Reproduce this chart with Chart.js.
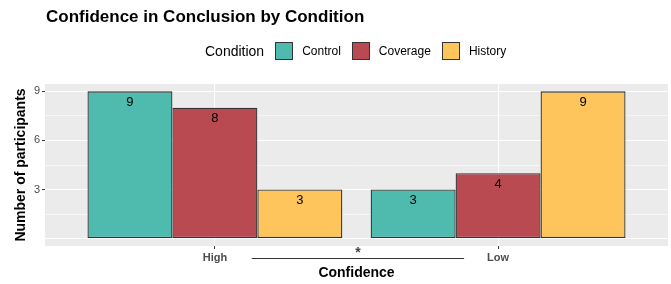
<!DOCTYPE html>
<html>
<head>
<meta charset="utf-8">
<script src="https://cdn.jsdelivr.net/npm/chart.js@4"></script>
<style>
  body { margin: 0; background: #fff; font-family: "Liberation Sans", Arial, sans-serif; }
  #wrap { position: relative; width: 671px; height: 284px; }
  #title { position: absolute; left: 46px; top: 8px; font-size: 17px; font-weight: bold; line-height: 17px; color: #000; }
  #legend { position: absolute; left: 205px; top: 42px; display: flex; align-items: center; height: 18px; }
  #legend .ttl { font-size: 14px; color: #000; margin-right: 11px; }
  #legend .box { width: 16px; height: 16px; border: 1px solid #333; }
  #legend .lab { font-size: 12px; color: #000; margin-left: 9px; margin-right: 11px; }
</style>
</head>
<body>
<div id="wrap">
  <canvas id="myChart" width="671" height="284"></canvas>
  <div id="title">Confidence in Conclusion by Condition</div>
  <div id="legend"></div>
</div>
<script>
// data
let categories = ["High", "Low"]
let control = [9, 3]
let coverage = [8, 4]
let history = [3, 9]
let seriesNames = ["Control", "Coverage", "History"]
let colors = ["#4fbbae", "#b94a52", "#fec55d"]
let yTicks = [0, 1.5, 3, 4.5, 6, 7.5, 9]
let yLabels = [3, 6, 9]
let bracket = [1.13, 1.88]   // significance line between groups, x units
let bracketLabel = "*"

let seriesValues = [control, coverage, history]

// legend (ggplot style, title inline)
let legend = document.getElementById("legend")
legend.innerHTML = '<span class="ttl">Condition</span>' + seriesNames.map(function (n, i) {
        return '<span class="box" style="background:' + colors[i] + '"></span><span class="lab">' + n + '</span>'
}).join("")

function makeData(vals) {
        return vals.map(function (v, i) { return { x: i + 1, y: v } })
}

let panelBg = {
        id: "panelBg",
        beforeDraw(chart) {
                let a = chart.chartArea
                let ctx = chart.ctx
                ctx.save()
                ctx.fillStyle = "#ebebeb"
                ctx.fillRect(a.left, a.top, a.right - a.left, a.bottom - a.top)
                ctx.restore()
        }
}

let extras = {
        id: "extras",
        afterDatasetsDraw(chart) {
                let ctx = chart.ctx
                ctx.save()
                ctx.fillStyle = "#000"
                ctx.font = "13px 'Liberation Sans', Arial"
                ctx.textAlign = "center"
                ctx.textBaseline = "middle"
                chart.data.datasets.forEach(function (ds, di) {
                        chart.getDatasetMeta(di).data.forEach(function (bar, i) {
                                ctx.fillText(ds.data[i].y, bar.x, bar.y + 11)
                        })
                })
                // significance bracket
                let xs = chart.scales.x
                let x1 = xs.getPixelForValue(bracket[0])
                let x2 = xs.getPixelForValue(bracket[1])
                ctx.strokeStyle = "#333"
                ctx.lineWidth = 1
                ctx.beginPath()
                ctx.moveTo(x1, 258.5)
                ctx.lineTo(x2, 258.5)
                ctx.stroke()
                ctx.fillStyle = "#444"
                ctx.font = "bold 14px 'Liberation Sans', Arial"
                ctx.fillText(bracketLabel, (x1 + x2) / 2, 253)
                ctx.restore()
        }
}

let myChart = new Chart(document.getElementById("myChart"), {
        type: "bar",
        data: {
                datasets: seriesNames.map(function (n, i) {
                        return {
                                label: n,
                                data: makeData(seriesValues[i]),
                                backgroundColor: colors[i],
                                borderColor: "#333",
                                borderWidth: 1.3,
                                borderSkipped: false,
                                categoryPercentage: 0.9,
                                barPercentage: 1
                        }
                })
        },
        options: {
                responsive: false,
                animation: false,
                layout: { padding: { top: 84, right: 3, left: 0, bottom: 0 } },
                plugins: { legend: { display: false }, tooltip: { enabled: false } },
                scales: {
                        x: {
                                type: "linear",
                                min: 0.4,
                                max: 2.6,
                                offset: false,
                                afterBuildTicks: function (s) { s.ticks = categories.map(function (c, i) { return { value: i + 1 } }) },
                                afterFit: function (s) { s.height = 38 },
                                border: { display: false },
                                grid: { offset: false, color: "#fff", lineWidth: 1.1, tickLength: 3, tickColor: "#333", tickWidth: 1 },
                                ticks: {
                                        color: "#4d4d4d",
                                        font: { size: 11, weight: "bold", family: "'Liberation Sans', Arial" },
                                        padding: 2,
                                        maxRotation: 0,
                                        callback: function (v) { return categories[Math.round(v) - 1] }
                                },
                                title: {
                                        display: true,
                                        text: "Confidence",
                                        color: "#000",
                                        font: { size: 14, weight: "bold", family: "'Liberation Sans', Arial" },
                                        padding: { top: 2, bottom: 2 }
                                }
                        },
                        y: {
                                min: -0.45,
                                max: 9.45,
                                afterBuildTicks: function (s) { s.ticks = yTicks.map(function (v) { return { value: v } }) },
                                afterFit: function (s) { s.width = 45 },
                                border: { display: false },
                                grid: {
                                        color: "#fff",
                                        lineWidth: function (c) { return c.tick && c.tick.value % 3 === 0 ? 1.1 : 0.55 },
                                        tickLength: 3,
                                        tickWidth: 1,
                                        tickColor: function (c) { return c.tick && yLabels.indexOf(c.tick.value) >= 0 ? "#333" : "rgba(0,0,0,0)" }
                                },
                                ticks: {
                                        color: "#4d4d4d",
                                        font: { size: 11, family: "'Liberation Sans', Arial" },
                                        padding: 2,
                                        callback: function (v) { return yLabels.indexOf(v) >= 0 ? v : "" }
                                },
                                title: {
                                        display: true,
                                        text: "Number of participants",
                                        color: "#000",
                                        font: { size: 14, weight: "bold", family: "'Liberation Sans', Arial" },
                                        padding: { top: 13, bottom: 0 }
                                }
                        }
                }
        },
        plugins: [panelBg, extras]
})
</script>
</body>
</html>
